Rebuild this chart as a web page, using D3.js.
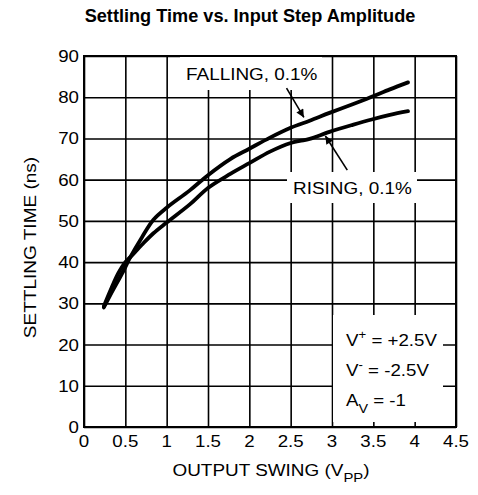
<!DOCTYPE html>
<html><head><meta charset="utf-8">
<script src="https://cdn.jsdelivr.net/npm/d3@7"></script>
<style>body{margin:0;background:#fff}svg{display:block}</style>
</head><body>
<svg id="c" width="478" height="495"></svg>
<script>
// ---- data ----
const xTicks = [0, 0.5, 1, 1.5, 2, 2.5, 3, 3.5, 4, 4.5];
const xTickLabels = ["0", "0.5", "1", "1.5", "2", "2.5", "3", "3.5", "4", "4.5"];
const yTicks = [0, 10, 20, 30, 40, 50, 60, 70, 80, 90];
const yTickLabels = ["0", "10", "20", "30", "40", "50", "60", "70", "80", "90"];

const fallingX = [0.24, 0.35, 0.47, 0.56, 0.7, 0.84, 1.0, 1.28, 1.5, 1.77, 2.0, 2.25, 2.5, 2.73, 2.97, 3.25, 3.48, 3.7, 3.92];
const fallingY = [29.0, 33.2, 37.6, 41.2, 46.0, 50.3, 53.2, 57.4, 61.1, 65.0, 67.5, 70.2, 72.6, 74.3, 76.2, 78.3, 80.1, 81.9, 83.6];
const risingX = [0.24, 0.33, 0.415, 0.5, 0.56, 0.7, 0.84, 1.0, 1.28, 1.5, 1.77, 2.0, 2.25, 2.5, 2.61, 2.73, 2.97, 3.25, 3.48, 3.7, 3.92];
const risingY = [29.3, 33.6, 37.3, 40.0, 41.2, 44.2, 47.0, 49.6, 54.0, 58.0, 61.4, 64.0, 66.8, 68.9, 69.4, 69.9, 71.6, 73.3, 74.6, 75.7, 76.6];

const title = "Settling Time vs. Input Step Amplitude";
const yLabel = "SETTLING TIME (ns)";

// ---- drawing ----
const FONT = "'Liberation Sans', Arial, Helvetica, sans-serif";
const SX = 1.1;
const svg = d3.select('#c');
const x = d3.scaleLinear().domain([0, 4.5]).range([84, 456]);
const y = d3.scaleLinear().domain([0, 90]).range([427, 56]);

// grid via axes
svg.append('g').attr('transform', `translate(0,${y(0)})`)
  .call(d3.axisBottom(x).tickValues(xTicks).tickSize(-(y(0) - y(90))).tickFormat(''))
  .call(g => g.select('.domain').remove())
  .call(g => g.selectAll('line').attr('stroke', '#000').attr('stroke-width', 1.6));
svg.append('g').attr('transform', `translate(${x(0)},0)`)
  .call(d3.axisLeft(y).tickValues(yTicks).tickSize(-(x(4.5) - x(0))).tickFormat(''))
  .call(g => g.select('.domain').remove())
  .call(g => g.selectAll('line').attr('stroke', '#000').attr('stroke-width', 1.6));

// white label boxes (hide grid behind annotations)
svg.append('rect').attr('x', 180).attr('y', 57).attr('width', 142).attr('height', 33).attr('fill', '#fff');
svg.append('rect').attr('x', 287).attr('y', 172).attr('width', 130).attr('height', 31).attr('fill', '#fff');
svg.append('rect').attr('x', 333).attr('y', 315).attr('width', 110).attr('height', 107).attr('fill', '#fff');

// curves
const line = d3.line().x(d => x(d[0])).y(d => y(d[1])).curve(d3.curveCatmullRom.alpha(0.5));
const fall = fallingX.map((v, i) => [v, fallingY[i]]);
const rise = risingX.map((v, i) => [v, risingY[i]]);
[fall, rise].forEach(data => {
  svg.append('path').datum(data).attr('d', line)
    .attr('fill', 'none').attr('stroke', '#000').attr('stroke-width', 3.8)
    .attr('stroke-linecap', 'round').attr('stroke-linejoin', 'round');
});

// border
svg.append('rect').attr('x', x(0)).attr('y', y(90)).attr('width', x(4.5) - x(0)).attr('height', y(0) - y(90))
  .attr('fill', 'none').attr('stroke', '#000').attr('stroke-width', 2);

// arrows
svg.append('defs').append('marker').attr('id', 'ah').attr('viewBox', '0 0 10 10')
  .attr('refX', 10).attr('refY', 5).attr('markerWidth', 12).attr('markerHeight', 8)
  .attr('markerUnits', 'userSpaceOnUse').attr('orient', 'auto')
  .append('path').attr('d', 'M0,0 L10,5 L0,10 z').attr('fill', '#000');
function arrow(x1, y1, x2, y2) {
  svg.append('line').attr('x1', x(x1)).attr('y1', y(y1)).attr('x2', x(x2)).attr('y2', y(y2))
    .attr('stroke', '#000').attr('stroke-width', 1.6).attr('marker-end', 'url(#ah)');
}
arrow(2.45, 82.2, 2.66, 75.1);
arrow(3.185, 62.3, 2.92, 70.6);

function txt(tx, ty, s, anchor, size, weight) {
  return svg.append('text').attr('transform', `translate(${tx},${ty}) scale(${SX},1)`)
    .attr('text-anchor', anchor || 'start').attr('font-family', FONT)
    .attr('font-size', size || 17).attr('font-weight', weight || 'normal').attr('fill', '#000').text(s);
}

// tick labels
xTicks.forEach((v, i) => txt(x(v), 447, xTickLabels[i], 'middle', 17));
yTicks.forEach((v, i) => txt(79, y(v) + 6, yTickLabels[i], 'end', 17));

// annotations
txt(x(1.234), y(84.2), "FALLING, 0.1%", 'start', 17.2);
txt(x(2.528), y(56.5), "RISING, 0.1%", 'start', 17.2);

// conditions box
const c1 = txt(346, 346, "V", 'start', 17);
c1.append('tspan').attr('dy', -7).attr('font-size', 12).text('+');
c1.append('tspan').attr('dy', 7).text(' = +2.5V');
const c2 = txt(346, 376, "V", 'start', 17);
c2.append('tspan').attr('dy', -7).attr('font-size', 12).text('-');
c2.append('tspan').attr('dy', 7).text(' = -2.5V');
const c3 = txt(346, 406, "A", 'start', 17);
c3.append('tspan').attr('dy', 7).attr('font-size', 13).text('V');
c3.append('tspan').attr('dy', -7).text(' = -1');

// axis titles
const xl = txt(271, 476, "OUTPUT SWING (V", 'middle', 17.2);
xl.append('tspan').attr('dy', 6).attr('font-size', 13.5).text('PP');
xl.append('tspan').attr('dy', -6).text(')');

svg.append('text').attr('transform', `translate(36,${(y(0) + y(90)) / 2 + 6}) rotate(-90) scale(${SX},1)`)
  .attr('text-anchor', 'middle').attr('font-family', FONT).attr('font-size', 17.3).text(yLabel);

// title
svg.append('text').attr('transform', `translate(250,22) scale(1.02,1)`)
  .attr('text-anchor', 'middle').attr('font-family', FONT).attr('font-size', 17.8)
  .attr('font-weight', 'bold').text(title);
</script>
</body></html>
